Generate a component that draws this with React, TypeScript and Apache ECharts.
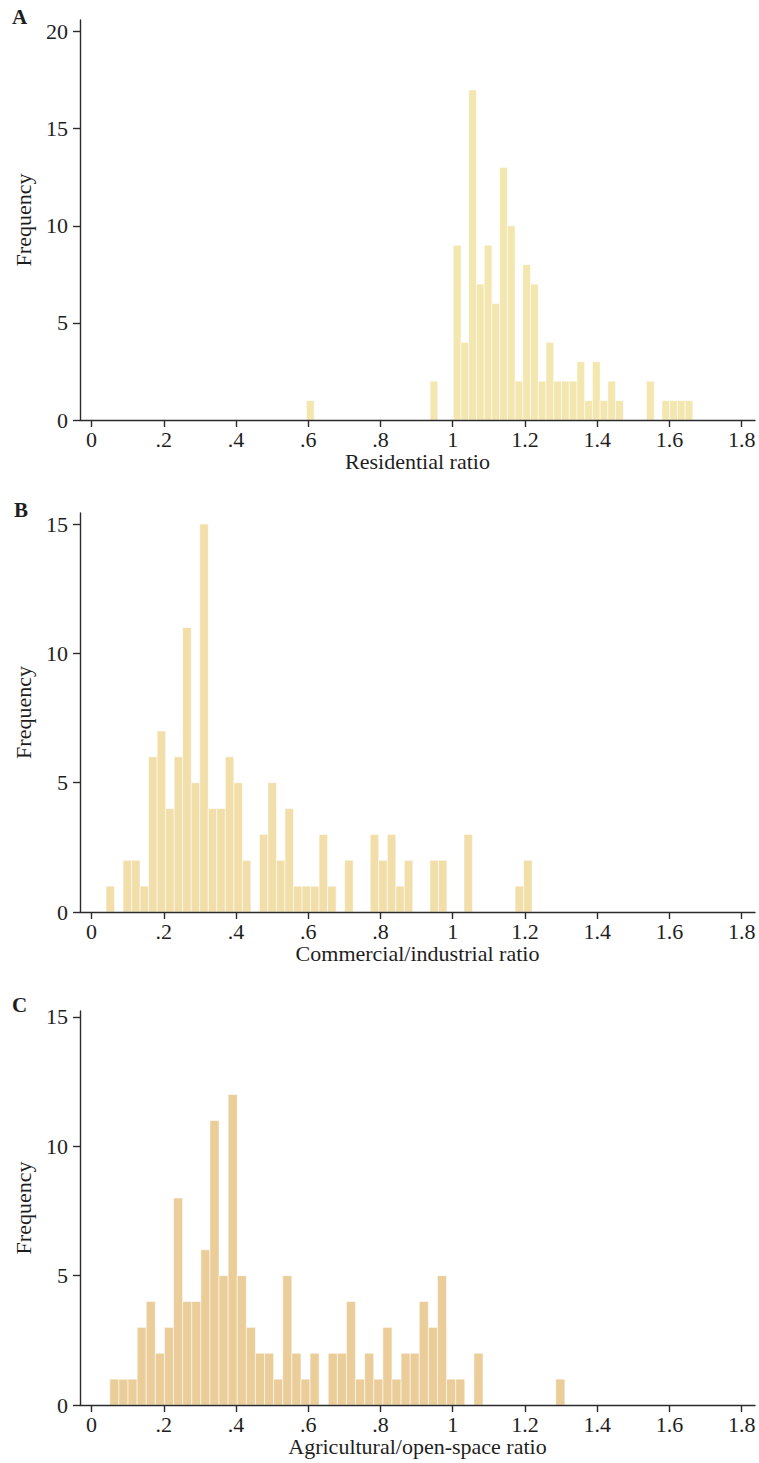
import React, { useEffect, useRef } from "react";
import * as echarts from "echarts";

// ---- Data ----
const xTickValues = [0, 0.2, 0.4, 0.6, 0.8, 1.0, 1.2, 1.4, 1.6, 1.8];
const xTickLabels = ["0", ".2", ".4", ".6", ".8", "1", "1.2", "1.4", "1.6", "1.8"];
const yTicksA = [0, 5, 10, 15, 20];
const yTicksBC = [0, 5, 10, 15];

// Panel A: Residential ratio histogram (50 bins)
const binStartA = 0.595;
const binWidthA = 0.0214;
const countsA = [
  1, 0, 0, 0, 0, 0, 0, 0, 0, 0,
  0, 0, 0, 0, 0, 0, 2, 0, 0, 9,
  4, 17, 7, 9, 6, 13, 10, 2, 8, 7,
  2, 4, 2, 2, 2, 3, 1, 3, 1, 2,
  1, 0, 0, 0, 2, 0, 1, 1, 1, 1,
];

// Panel B: Commercial/industrial ratio histogram (50 bins)
const binStartB = 0.04;
const binWidthB = 0.0236;
const countsB = [
  1, 0, 2, 2, 1, 6, 7, 4, 6, 11,
  5, 15, 4, 4, 6, 5, 2, 0, 3, 5,
  2, 4, 1, 1, 1, 3, 1, 0, 2, 0,
  0, 3, 2, 3, 1, 2, 0, 0, 2, 2,
  0, 0, 3, 0, 0, 0, 0, 0, 1, 2,
];

// Panel C: Agricultural/open-space ratio histogram (50 bins)
const binStartC = 0.0506;
const binWidthC = 0.0252;
const countsC = [
  1, 1, 1, 3, 4, 2, 3, 8, 4, 4,
  6, 11, 5, 12, 5, 3, 2, 2, 1, 5,
  2, 1, 2, 0, 2, 2, 4, 1, 2, 1,
  3, 1, 2, 2, 4, 3, 5, 1, 1, 0,
  2, 0, 0, 0, 0, 0, 0, 0, 0, 1,
];

const FONT = '"Liberation Serif", "Times New Roman", Times, serif';
const AXIS_COLOR = "#2b2b2b";
const TEXT_COLOR = "#1e1e1e";

function bins(start: number, width: number, counts: number[]) {
  const out: number[][] = [];
  counts.forEach((c, i) => {
    if (c > 0) out.push([start + i * width, start + (i + 1) * width, c]);
  });
  return out;
}

export default function App() {
  const ref = useRef<HTMLDivElement>(null);

  useEffect(() => {
    if (!ref.current) return;
    const chart = echarts.init(ref.current, undefined, { renderer: "svg" });

    const grids = [
      { left: 80, right: 4, top: 20, height: 400 },
      { left: 80, right: 4, top: 513, height: 399 },
      { left: 80, right: 4, top: 1011, height: 394 },
    ];
    const yMax = [20.6, 15.43, 15.23];
    const xNames = ["Residential ratio", "Commercial/industrial ratio", "Agricultural/open-space ratio"];
    const colors = ["#F3E6AE", "#F1DEA9", "#EBCD9A"];
    const data = [
      bins(binStartA, binWidthA, countsA),
      bins(binStartB, binWidthB, countsB),
      bins(binStartC, binWidthC, countsC),
    ];

    const xAxes = grids.map((_, i) => ({
      type: "value",
      gridIndex: i,
      z: 10,
      min: -0.032,
      max: 1.837,
      name: xNames[i],
      nameLocation: "middle",
      nameGap: 29,
      nameTextStyle: { fontFamily: FONT, fontSize: 22, color: TEXT_COLOR },
      splitLine: { show: false },
      axisLine: { show: true, onZero: false, lineStyle: { color: AXIS_COLOR, width: 1.4 } },
      axisTick: { show: true, length: 7, customValues: xTickValues, lineStyle: { color: AXIS_COLOR, width: 1.4 } },
      axisLabel: {
        customValues: xTickValues,
        formatter: (v: number) => {
          const idx = xTickValues.findIndex((t) => Math.abs(t - v) < 1e-6);
          return idx >= 0 ? xTickLabels[idx] : "";
        },
        fontFamily: FONT,
        fontSize: 22,
        color: TEXT_COLOR,
        margin: 8,
      },
    }));

    const yAxes = grids.map((_, i) => {
      const ticks = i === 0 ? yTicksA : yTicksBC;
      return {
        type: "value",
        gridIndex: i,
        z: 10,
        min: 0,
        max: yMax[i],
        name: "Frequency",
        nameLocation: "middle",
        nameRotate: 90,
        nameGap: 46,
        nameTextStyle: { fontFamily: FONT, fontSize: 22, color: TEXT_COLOR },
        splitLine: { show: false },
        axisLine: { show: true, onZero: false, lineStyle: { color: AXIS_COLOR, width: 1.4 } },
        axisTick: { show: true, length: 7, customValues: ticks, lineStyle: { color: AXIS_COLOR, width: 1.4 } },
        axisLabel: {
          customValues: ticks,
          fontFamily: FONT,
          fontSize: 22,
          color: TEXT_COLOR,
          margin: 12,
        },
      };
    });

    const series = data.map((d, i) => ({
      type: "custom",
      xAxisIndex: i,
      yAxisIndex: i,
      z: 2,
      data: d,
      encode: { x: [0, 1], y: 2 },
      renderItem: (params: any, api: any) => {
        const x0 = api.value(0);
        const x1 = api.value(1);
        const y = api.value(2);
        const p0 = api.coord([x0, 0]);
        const p1 = api.coord([x1, y]);
        return {
          type: "rect",
          shape: { x: p0[0], y: p1[1], width: p1[0] - p0[0], height: p0[1] - p1[1] },
          style: { fill: colors[i], stroke: "rgba(255,255,255,0.7)", lineWidth: 0.8 },
        };
      },
    }));

    const letters = [
      { t: "A", x: 12, y: 6 },
      { t: "B", x: 14, y: 499 },
      { t: "C", x: 12, y: 994 },
    ];

    chart.setOption({
      animation: false,
      backgroundColor: "#ffffff",
      grid: grids,
      xAxis: xAxes,
      yAxis: yAxes,
      series,
      graphic: letters.map((l) => ({
        type: "text",
        left: l.x,
        top: l.y,
        z: 20,
        style: { text: l.t, font: `bold 21px ${FONT}`, fill: TEXT_COLOR },
      })),
    });

    return () => chart.dispose();
  }, []);

  return (
    <div
      ref={ref}
      style={{ position: "absolute", left: 0, top: 0, width: 759, height: 1463, background: "#fff" }}
    />
  );
}
